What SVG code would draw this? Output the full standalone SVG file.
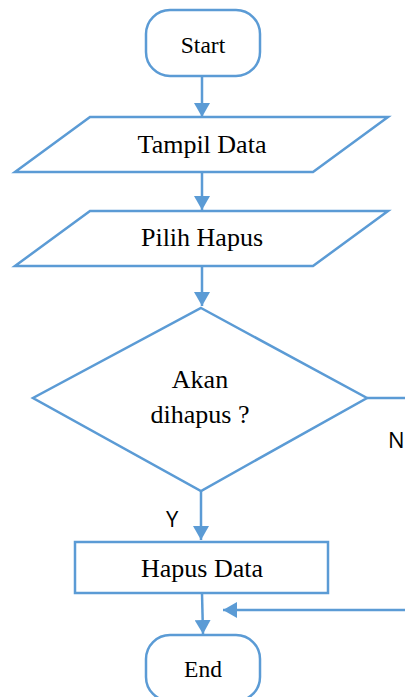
<svg xmlns="http://www.w3.org/2000/svg" width="405" height="697" viewBox="0 0 405 697">
  <style>
    .shape { fill: #ffffff; stroke: #5B9BD5; stroke-width: 2.5; }
    .edge { fill: none; stroke: #5B9BD5; stroke-width: 2.5; }
    .label { font-family: "Liberation Serif", "Times New Roman", serif; font-size: 26px; fill: #000; text-anchor: middle; }
    .term { font-size: 23.5px; }
    .branch { font-family: "Open Sans", "Liberation Sans", sans-serif; font-size: 22px; fill: #000; }
  </style>
  <defs>
    <marker id="arrow" markerUnits="userSpaceOnUse" markerWidth="14" markerHeight="16" viewBox="0 0 14 16" refX="14" refY="8" orient="auto">
      <path d="M0,0 L14,8 L0,16 Z" fill="#5B9BD5"/>
    </marker>
  </defs>
  <rect width="405" height="697" fill="#ffffff"/>

  <!-- connectors -->
  <g id="connectors">
    <line class="edge" x1="202" y1="76" x2="202" y2="117" marker-end="url(#arrow)"/>
    <line class="edge" x1="202" y1="172" x2="202" y2="210" marker-end="url(#arrow)"/>
    <line class="edge" x1="202" y1="266" x2="202" y2="306" marker-end="url(#arrow)"/>
    <line class="edge" x1="201" y1="491" x2="201" y2="540" marker-end="url(#arrow)"/>
    <line class="edge" x1="202" y1="593" x2="203" y2="634" marker-end="url(#arrow)"/>
    <line class="edge" x1="367" y1="398" x2="405" y2="398"/>
    <line class="edge" x1="405" y1="610" x2="223" y2="610" marker-end="url(#arrow)"/>
    <text class="branch" x="166" y="527">Y</text>
    <text class="branch" x="388" y="448">N</text>
  </g>

  <g id="start">
    <rect class="shape" x="146" y="10" width="114" height="66" rx="24" ry="24"/>
    <text class="label term" x="203" y="53">Start</text>
  </g>

  <g id="tampil-data">
    <polygon class="shape" points="90,117 388,117 313,172 15,172"/>
    <text class="label" x="202" y="153">Tampil Data</text>
  </g>

  <g id="pilih-hapus">
    <polygon class="shape" points="90,211 388,211 313,266 15,266"/>
    <text class="label" x="202" y="246">Pilih Hapus</text>
  </g>

  <g id="akan-dihapus">
    <polygon class="shape" points="201,308 367,398 201,491 33,398"/>
    <text class="label" x="200" y="388">Akan</text>
    <text class="label" x="200" y="423">dihapus ?</text>
  </g>

  <g id="hapus-data">
    <rect class="shape" x="75" y="542" width="253" height="51"/>
    <text class="label" x="202" y="577">Hapus Data</text>
  </g>

  <g id="end">
    <rect class="shape" x="146" y="635" width="114" height="66" rx="24" ry="24"/>
    <text class="label term" x="203" y="677">End</text>
  </g>
</svg>
